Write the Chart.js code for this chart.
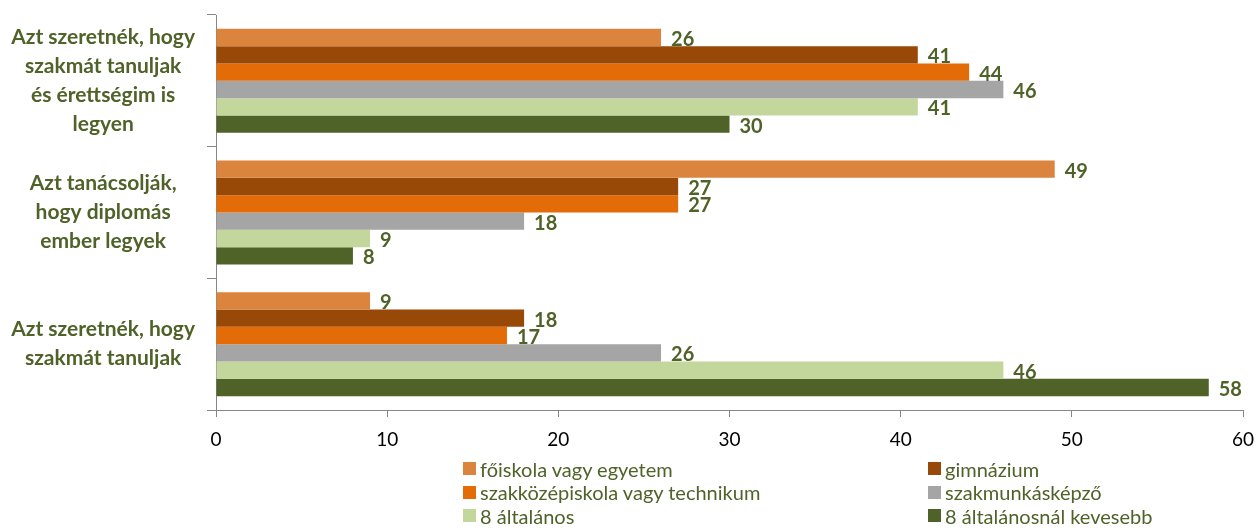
<!DOCTYPE html>
<html>
<head>
<meta charset="utf-8">
<script src="https://cdn.jsdelivr.net/npm/chart.js@4"></script>
<style>
  html, body { margin: 0; padding: 0; background: #fff; }
  #wrap { position: relative; width: 1258px; height: 529px; }
  #chart { position: absolute; left: 0; top: 0; }
  #legend {
    position: absolute; left: 463px; top: 457px;
    display: grid; grid-template-columns: 465px auto; grid-auto-rows: 23.5px;
    font: 20px Lato, sans-serif; color: #4F6228;
  }
  .item { display: flex; align-items: center; white-space: nowrap; }
  .box { width: 13px; height: 13px; margin-right: 4px; }
</style>
</head>
<body>
<div id="wrap">
  <canvas id="chart" width="1258" height="529"></canvas>
  <div id="legend"></div>
</div>
<script>
// categories (top to bottom)
const categories = [
    ['Azt szeretnék, hogy', 'szakmát tanuljak', 'és érettségim is', 'legyen'],
    ['Azt tanácsolják,', 'hogy diplomás', 'ember legyek'],
    ['Azt szeretnék, hogy', 'szakmát tanuljak']
];

// series
const seriesNames = [
    'főiskola vagy egyetem',
    'gimnázium',
    'szakközépiskola vagy technikum',
    'szakmunkásképző',
    '8 általános',
    '8 általánosnál kevesebb'
];
const foiskola = [26, 49, 9];
const gimnazium = [41, 27, 18];
const szakkozep = [44, 27, 17];
const szakmunkas = [46, 18, 26];
const altalanos8 = [41, 9, 46];
const kevesebb = [30, 8, 58];

const xTicks = [0, 10, 20, 30, 40, 50, 60];

const colors = ['#DB843D', '#984807', '#E36C09', '#A5A5A5', '#C3D69B', '#4F6228'];
const green = '#4F6228';
const axisGray = '#868686';

const seriesData = [foiskola, gimnazium, szakkozep, szakmunkas, altalanos8, kevesebb];

// value labels to the right of each bar
const valueLabels = {
    id: 'valueLabels',
    afterDatasetsDraw(chart) {
        const ctx = chart.ctx;
        ctx.save();
        ctx.font = 'bold 20px Lato';
        ctx.fillStyle = green;
        ctx.textAlign = 'left';
        ctx.textBaseline = 'middle';
        chart.data.datasets.forEach((ds, i) => {
            chart.getDatasetMeta(i).data.forEach((bar, j) => {
                ctx.fillText(ds.data[j], bar.x + 10, bar.y + 2);
            });
        });
        ctx.restore();
    }
};

const chart = new Chart(document.getElementById('chart'), {
    type: 'bar',
    data: {
        labels: categories,
        datasets: seriesNames.map((name, i) => ({
            label: name,
            data: seriesData[i],
            backgroundColor: colors[i],
            borderWidth: 0,
            barPercentage: 1,
            categoryPercentage: 0.79
        }))
    },
    options: {
        indexAxis: 'y',
        responsive: false,
        animation: false,
        devicePixelRatio: 1,
        layout: {
            padding: { top: 15, right: 15, bottom: 69, left: 0 }
        },
        scales: {
            x: {
                min: 0,
                max: 60,
                afterBuildTicks: scale => { scale.ticks = xTicks.map(v => ({ value: v })); },
                afterFit: scale => {
                    scale.height = 50;
                    scale.paddingLeft = 0;
                    scale.paddingRight = 0;
                },
                grid: { drawOnChartArea: false, tickLength: 7, color: axisGray },
                border: { color: axisGray },
                ticks: { color: '#000', font: { family: 'Lato', size: 19 }, padding: 11 }
            },
            y: {
                afterFit: scale => {
                    scale.width = 216;
                    scale.paddingTop = 0;
                    scale.paddingBottom = 0;
                },
                grid: { drawOnChartArea: false, tickLength: 9, color: axisGray, offset: true },
                border: { color: axisGray },
                ticks: {
                    color: green,
                    crossAlign: 'center',
                    padding: 12,
                    font: { family: 'Lato', size: 21, weight: 'bold', lineHeight: '29px' }
                }
            }
        },
        plugins: {
            legend: { display: false },
            tooltip: { enabled: false }
        }
    },
    plugins: [valueLabels]
});

// legend in two columns, built from the datasets
const legend = document.getElementById('legend');
seriesNames.forEach((name, i) => {
    const item = document.createElement('div');
    item.className = 'item';
    item.innerHTML = '<span class="box" style="background:' + colors[i] + '"></span>' + name;
    legend.appendChild(item);
});
</script>
</body>
</html>
